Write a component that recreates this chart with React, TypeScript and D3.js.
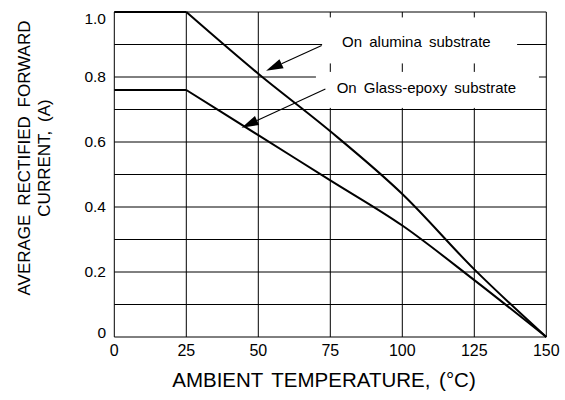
import * as d3 from 'd3';

// temperature points (°C) and derating curves (A)
const temps = [0, 25, 50, 75, 100, 125, 150];
const alumina = [1.0, 1.0, 0.81, 0.633, 0.44, 0.208, 0];
const glassEpoxy = [0.76, 0.76, 0.621, 0.482, 0.343, 0.175, 0];

const xTicks = [0, 25, 50, 75, 100, 125, 150];
const yGrid = [0, 0.1, 0.2, 0.3, 0.4, 0.5, 0.6, 0.7, 0.8, 0.9, 1.0];
const yLabels = [0, 0.2, 0.4, 0.6, 0.8, 1.0];

const W = 565;
const H = 400;
const FONT = '"Liberation Sans", Arial, sans-serif';

const x = d3.scaleLinear().domain([0, 150]).range([114.3, 546.3]);
const y = d3.scaleLinear().domain([0, 1]).range([337, 12]);

// flat part is straight, the derating part is drawn smooth
const flat = d3
  .line<[number, number]>()
  .x((d) => x(d[0]))
  .y((d) => y(d[1]));
const derate = d3
  .line<[number, number]>()
  .x((d) => x(d[0]))
  .y((d) => y(d[1]))
  .curve(d3.curveMonotoneX);

function curvePath(values: number[]) {
  const pts = temps.map((t, i) => [t, values[i]] as [number, number]);
  return (flat(pts.slice(0, 2)) ?? '') + (derate(pts.slice(1)) ?? '');
}

// annotations: text in data coords, arrow from text to curve
const notes = [
  {
    label: 'On alumina substrate',
    text: [79.1, 0.891],
    box: { dx: -20, dy: -30, w: 195, h: 46 },
    from: [72.0, 0.897],
    to: [52.7, 0.819],
  },
  {
    label: 'On Glass-epoxy substrate',
    text: [77.2, 0.752],
    box: { dx: -20.7, dy: -20.7, w: 223, h: 36 },
    from: [73.3, 0.763],
    to: [44.2, 0.644],
  },
];

function Arrow({ from, to }: { from: number[]; to: number[] }) {
  const x1 = x(from[0]);
  const y1 = y(from[1]);
  const x2 = x(to[0]);
  const y2 = y(to[1]);
  const len = Math.hypot(x2 - x1, y2 - y1);
  const ux = (x2 - x1) / len;
  const uy = (y2 - y1) / len;
  const head = 17;
  const half = 5;
  const bx = x2 - ux * head;
  const by = y2 - uy * head;
  const pts = [
    [x2, y2],
    [bx - uy * half, by + ux * half],
    [bx + uy * half, by - ux * half],
  ];
  return (
    <g>
      <line x1={x1} y1={y1} x2={bx} y2={by} stroke="#000" strokeWidth={1.1} />
      <polygon points={pts.map((p) => p.join(',')).join(' ')} fill="#000" />
    </g>
  );
}

export default function App() {
  const [x0, x1] = x.range();
  const [y0, y1] = y.range();
  return (
    <div style={{ position: 'fixed', left: 0, top: 0 }}>
      <svg width={W} height={H} style={{ display: 'block', background: '#fff' }} fontFamily={FONT}>
        {/* grid */}
        {yGrid.map((v) => (
          <line key={'h' + v} x1={x0} x2={x1} y1={y(v)} y2={y(v)} stroke="#000" strokeWidth={1} />
        ))}
        {xTicks.map((t) => (
          <line key={'v' + t} x1={x(t)} x2={x(t)} y1={y0} y2={y1} stroke="#000" strokeWidth={1} />
        ))}

        {/* label boxes blank out the grid */}
        {notes.map((n) => (
          <rect
            key={'b' + n.label}
            x={x(n.text[0]) + n.box.dx}
            y={y(n.text[1]) + n.box.dy}
            width={n.box.w}
            height={n.box.h}
            fill="#fff"
          />
        ))}

        {/* curves */}
        <path d={curvePath(alumina)} fill="none" stroke="#000" strokeWidth={2} />
        <path d={curvePath(glassEpoxy)} fill="none" stroke="#000" strokeWidth={2} />

        {notes.map((n) => (
          <g key={'n' + n.label}>
            <Arrow from={n.from} to={n.to} />
            <text x={x(n.text[0])} y={y(n.text[1])} fontSize={15} wordSpacing={3} fill="#000">
              {n.label}
            </text>
          </g>
        ))}

        {/* y tick labels */}
        {yLabels.map((v) => (
          <text
            key={'yl' + v}
            x={106}
            y={Math.min(Math.max(y(v), 19), 333)}
            dy="0.35em"
            textAnchor="end"
            fontSize={15.5}
          >
            {v === 0 ? '0' : v.toFixed(1)}
          </text>
        ))}

        {/* x tick labels */}
        {xTicks.map((t) => (
          <text key={'xl' + t} x={x(t)} y={355.5} textAnchor="middle" fontSize={16}>
            {t}
          </text>
        ))}

        {/* axis titles */}
        <text x={324} y={387.3} textAnchor="middle" fontSize={20.5} wordSpacing={3}>
          AMBIENT TEMPERATURE, (°C)
        </text>
        <g transform="translate(30,158) rotate(-90)">
          <text x={0} y={0} textAnchor="middle" fontSize={17} wordSpacing={4}>
            AVERAGE RECTIFIED FORWARD
          </text>
          <text x={0} y={20} textAnchor="middle" fontSize={17} wordSpacing={4}>
            CURRENT, (A)
          </text>
        </g>
      </svg>
    </div>
  );
}
